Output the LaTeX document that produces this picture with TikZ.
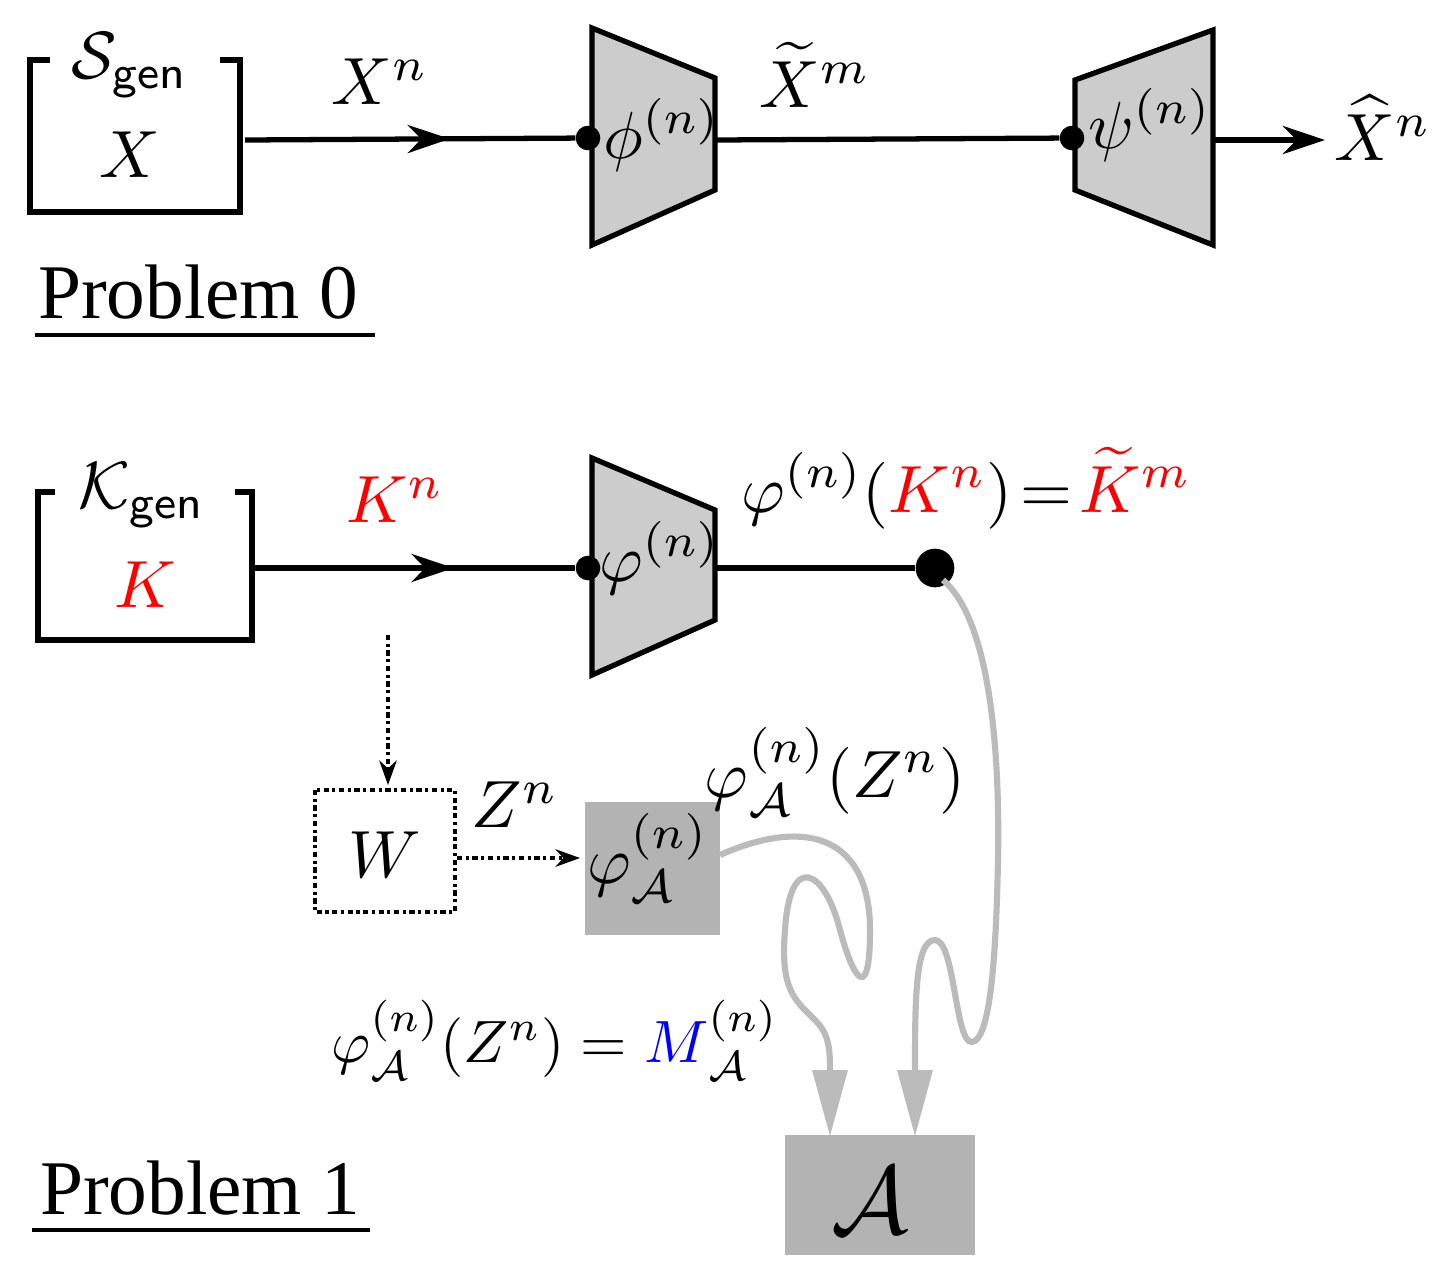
\documentclass[tikz,border=0pt]{standalone}
\usepackage{amsmath}
\usepackage{graphicx}
\usepackage{fontspec}
\setmainfont{Liberation Serif}
\usetikzlibrary{arrows.meta,decorations.markings}
\definecolor{lg}{HTML}{CCCCCC}
\definecolor{dg}{HTML}{B3B3B3}
\definecolor{cg}{HTML}{BBBBBB}
\newcommand{\gen}{\mathsf{gen}}
\newcommand{\Lg}[1]{\scalebox{3.8}{#1}}
\begin{document}
\begin{tikzpicture}[x=0.02cm,y=-0.02cm,
  ln/.style={line width=3pt},
  big/.style={},
  huge/.style={font=\fontsize{44}{50}\selectfont},
  midarrow/.style={postaction={decorate},decoration={markings,mark=at position #1 with {\arrow{Stealth[length=24pt,width=16pt]}}}},
  dd/.style={line width=1.8pt,dash dot},
  cv/.style={cg,line width=3.5pt},
  dot/.style={circle,fill=black,inner sep=0pt,minimum size=14pt}]
\useasboundingbox (0,0) rectangle (1456,1276);
% Problem 0
\draw[ln] (50,60) -- (30,60) -- (30,212) -- (240,212) -- (240,60) -- (220,60);
\node[big] (sg) at (130,65) {\Lg{$\mathcal{S}_{\gen}$}};
\node[big] (sx) at (130,155) {\Lg{$X$}};
\draw[ln,fill=lg] (592,28) -- (715,78) -- (715,190) -- (592,245) -- cycle;
\draw[ln,fill=lg] (1075,80) -- (1213,30) -- (1213,245) -- (1075,190) -- cycle;
\node[dot] (d1) at (588,138) {};
\node[dot] (d2) at (1072,138) {};
\draw[ln,midarrow=0.62] (245,140) -- (d1);
\draw[ln] (715,140) -- (d2);
\coordinate (e1) at (1325,140);
\draw[ln,-{Stealth[length=24pt,width=16pt]}] (1213,140) -- (e1);
\node[big] (xn) at (380,82) {\Lg{$X^{n}$}};
\node[big] (ph) at (662,135) {\Lg{$\phi^{(n)}$}};
\node[big] (xt) at (815,75) {\Lg{$\widetilde{X}^{m}$}};
\node[big] (ps) at (1150,125) {\Lg{$\psi^{(n)}$}};
\node[big] (xh) at (1383,128) {\Lg{$\widehat{X}^{n}$}};
\node[huge] (p0) at (198,292) {Problem 0};
\draw[line width=2.5pt] (35,335) -- (375,335);
% Problem 1
\draw[ln] (55,492) -- (38,492) -- (38,640) -- (252,640) -- (252,492) -- (235,492);
\node[big] (kg) at (142,495) {\Lg{$\mathcal{K}_{\gen}$}};
\node[big] (kk) at (145,585) {\Lg{$\color{red}K$}};
\draw[ln,fill=lg] (592,458) -- (715,510) -- (715,620) -- (592,675) -- cycle;
\node[dot] (d3) at (588,568) {};
\node[dot,minimum size=22pt] (d4) at (935,568) {};
\draw[ln,midarrow=0.62] (255,568) -- (d3);
\draw[ln] (715,568) -- (d4);
\node[big] (kn) at (395,500) {\Lg{$\color{red}K^{n}$}};
\node[big,anchor=west] (eq1) at (735,488) {\Lg{$\varphi^{(n)}(\color{red}K^{n}\color{black})\!=\!\color{red}\widetilde{K}^{m}$}};
\node[big] (vp) at (660,558) {\Lg{$\varphi^{(n)}$}};
\draw[dd] (315,790) rectangle (455,912);
\node[big] (wl) at (385,855) {\Lg{$W$}};
\coordinate (t1) at (388,635);
\coordinate (t2) at (388,785);
\coordinate (t3) at (457,858);
\coordinate (t4) at (580,858);
\draw[dd,-{Stealth[length=14pt,width=10pt]}] (t1) -- (t2);
\draw[dd,-{Stealth[length=14pt,width=10pt]}] (t3) -- (t4);
\node[big] (zn) at (515,805) {\Lg{$Z^{n}$}};
\fill[dg] (585,802) rectangle (720,935);
\node[big] (pa) at (648,858) {\Lg{$\varphi_{\mathcal{A}}^{(n)}$}};
\node[big] (pz) at (835,772) {\Lg{$\varphi_{\mathcal{A}}^{(n)}(Z^{n})$}};
\fill[dg] (785,1135) rectangle (975,1255);
\node (A) at (870,1200) {\scalebox{5.5}{$\mathcal{A}$}};
\draw[cv] (720,855) .. controls (810,815) and (870,840) .. (870,930)
  .. controls (870,1000) and (855,985) .. (840,930)
  .. controls (825,870) and (790,850) .. (785,930)
  .. controls (780,990) and (795,1000) .. (815,1020)
  .. controls (830,1035) and (830,1050) .. (830,1075);
\fill[cg] (812,1070) -- (848,1070) -- (830,1136) -- cycle;
\draw[cv] (943,580) .. controls (990,620) and (1000,750) .. (998,860)
  .. controls (996,960) and (990,1040) .. (972,1042)
  .. controls (955,1044) and (955,940) .. (935,940)
  .. controls (915,940) and (915,1000) .. (915,1075);
\fill[cg] (897,1070) -- (933,1070) -- (915,1136) -- cycle;
\node[big] (eq2) at (555,1040) {\scalebox{3.4}{$\varphi_{\mathcal{A}}^{(n)}(Z^{n})=\color{blue}M\color{black}_{\mathcal{A}}^{(n)}$}};
\node[huge] (p1) at (200,1188) {Problem 1};
\draw[line width=2.5pt] (32,1230) -- (370,1230);
\end{tikzpicture}
\end{document}
